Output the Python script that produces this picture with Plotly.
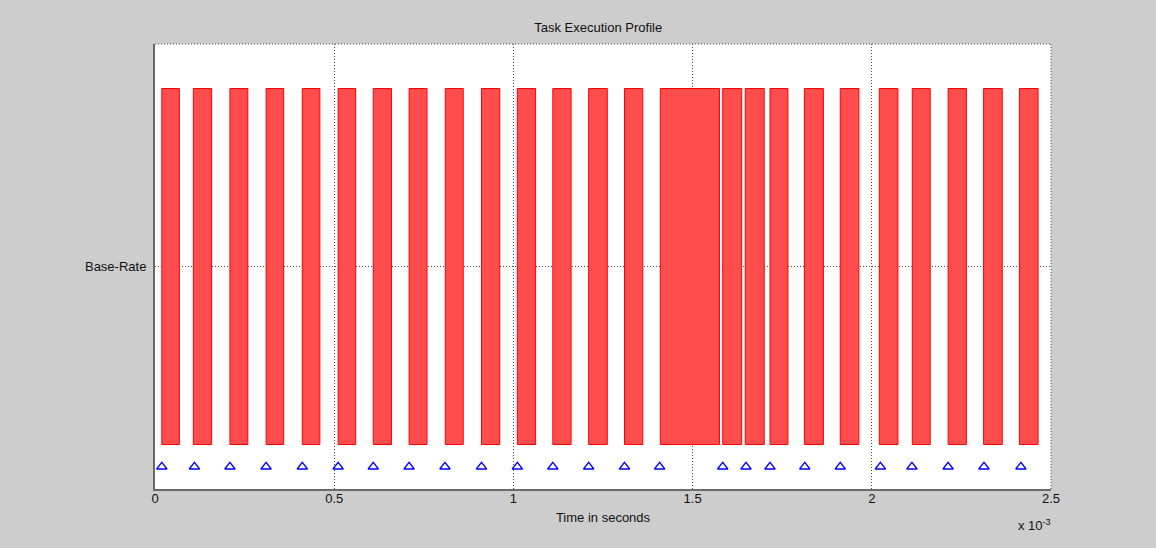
import plotly.graph_objects as go

# Task execution intervals (time in units of 1e-3 s)
task_start = [0.019, 0.107, 0.209, 0.310, 0.411, 0.511, 0.609, 0.709, 0.810, 0.911,
              1.011, 1.110, 1.210, 1.310, 1.410, 1.584, 1.647, 1.716, 1.812, 1.912,
              2.021, 2.113, 2.213, 2.312, 2.412]
task_end = [0.068, 0.158, 0.259, 0.359, 0.460, 0.560, 0.660, 0.759, 0.860, 0.962,
            1.062, 1.161, 1.262, 1.361, 1.575, 1.637, 1.700, 1.766, 1.865, 1.964,
            2.073, 2.163, 2.264, 2.364, 2.464]

# Trigger instants of the base-rate task (time in units of 1e-3 s)
trigger_times = [0.019, 0.110, 0.209, 0.310, 0.411, 0.511, 0.609, 0.709, 0.809, 0.911,
                 1.011, 1.110, 1.210, 1.310, 1.408, 1.584, 1.649, 1.716, 1.813, 1.912,
                 2.024, 2.112, 2.213, 2.313, 2.416]

task_names = ["Base-Rate"]
task_level = [1]
x_ticks = [0, 0.5, 1, 1.5, 2, 2.5]
x_tick_labels = ["0", "0.5", "1", "1.5", "2", "2.5"]

durations = [e - s for s, e in zip(task_start, task_end)]

FONT = "Liberation Sans, Arial, sans-serif"
GRID = "#4a4a4a"
DOT = "1px,2px"
AXIS = "#6a6a6a"

fig = go.Figure()

fig.add_trace(go.Bar(
    orientation="h",
    base=task_start,
    x=durations,
    y=[task_level[0]] * len(task_start),
    width=0.8,
    marker=dict(color="rgb(255,77,77)", line=dict(color="rgb(255,0,0)", width=1)),
    showlegend=False,
))

fig.add_trace(go.Scatter(
    x=trigger_times,
    y=[task_level[0] - 0.45] * len(trigger_times),
    mode="markers",
    marker=dict(symbol="triangle-up-open", size=9, color="#0000ff",
                line=dict(width=1.3, color="#0000ff")),
    showlegend=False,
))

fig.update_layout(
    width=1156, height=548,
    margin=dict(l=155, r=105, t=44, b=59),
    paper_bgcolor="#cdcdcd",
    plot_bgcolor="#ffffff",
    barmode="overlay",
    font=dict(family=FONT, size=13, color="#111111"),
    title=dict(text="Task Execution Profile", x=0.5175, xanchor="center",
               yref="container", y=1 - 27 / 548, yanchor="middle",
               font=dict(family=FONT, size=13, color="#111111")),
    xaxis=dict(
        range=[0, 2.5], tickvals=x_ticks, ticktext=x_tick_labels,
        showgrid=True, gridcolor=GRID, griddash=DOT, gridwidth=1,
        zeroline=False, showline=True, linecolor=AXIS, linewidth=2,
        ticks="", ticklabelstandoff=-4,
        title=dict(text="Time in seconds", standoff=8,
                   font=dict(family=FONT, size=13)),
    ),
    yaxis=dict(
        range=[0.5, 1.5], tickvals=task_level, ticktext=task_names,
        showgrid=True, gridcolor=GRID, griddash=DOT, gridwidth=1,
        zeroline=False, showline=True, linecolor=AXIS, linewidth=2,
        ticks="", ticklabelstandoff=4,
    ),
)

# dotted top and right frame edges
fig.add_shape(type="line", xref="paper", yref="paper", x0=0, x1=1, y0=1, y1=1,
              line=dict(color=GRID, width=1, dash=DOT))
fig.add_shape(type="line", xref="paper", yref="paper", x0=1, x1=1, y0=0, y1=1,
              line=dict(color=GRID, width=1, dash=DOT))

# axis exponent label
fig.add_annotation(text="x 10<sup>-3</sup>", xref="paper", yref="paper",
                   x=0.961, y=-0.08, xanchor="left", yanchor="middle",
                   showarrow=False, font=dict(family=FONT, size=13, color="#111111"))

fig.write_html("out.html")
